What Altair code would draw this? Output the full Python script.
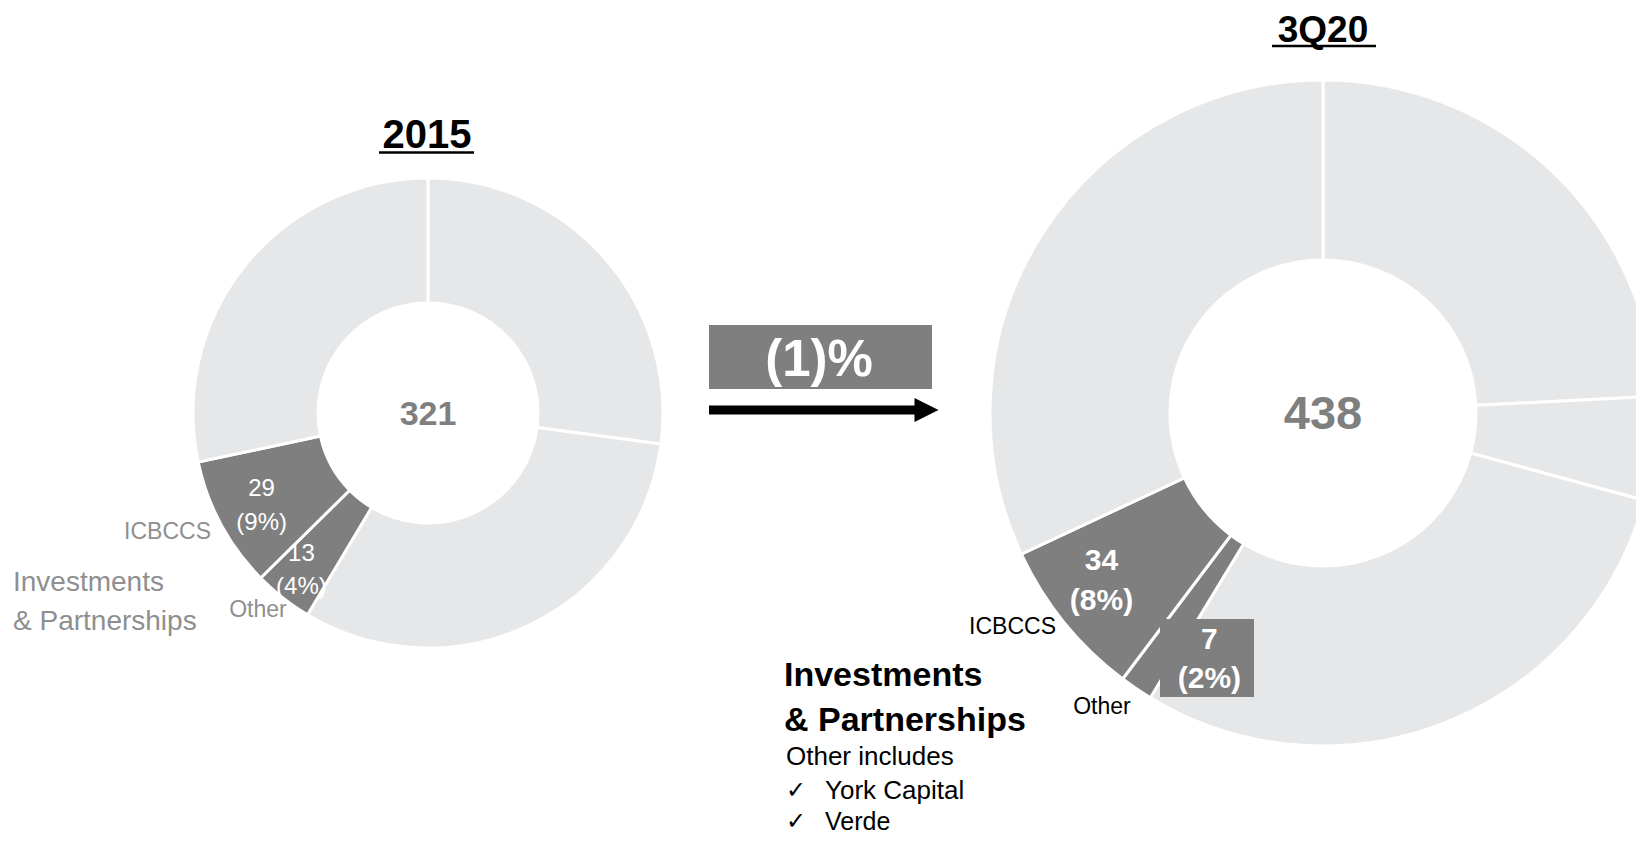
import altair as alt
import pandas as pd

# ---------------- data ----------------
segments_2015 = ["Segment 1", "Segment 2", "Other", "ICBCCS", "Segment 3"]
values_2015 = [87, 101, 13, 29, 91]

segments_3q20 = ["Segment 1", "Segment 2", "Segment 3", "Other", "ICBCCS", "Segment 4"]
values_3q20 = [106, 22, 129, 7, 34, 140]

ip_segments = ["Other", "ICBCCS"]
titles = ["2015", "3Q20"]
change_label = "(1)%"
group_title = "Investments\n& Partnerships"
other_note = "Other includes"
other_items = ["York Capital", "Verde"]

# ---------------- style ----------------
FONT = "Liberation Sans"
LIGHT = "#E6E7E8"
DARK = "#7F7F7F"
SOFT = "#8f8f8f"
OFF = 8  # page margin


def donut_df(segments, values):
    total = sum(values)
    return pd.DataFrame({
        "segment": segments,
        "value": values,
        "idx": list(range(len(values))),
        "group": ["ip" if s in ip_segments else "core" for s in segments],
        "label": [f"{v}\n({round(100 * v / total)}%)" for v in values],
    })


df15 = donut_df(segments_2015, values_2015)
df20 = donut_df(segments_3q20, values_3q20)

color_scale = alt.Scale(domain=["core", "ip"], range=[LIGHT, DARK])


def arcs(df, cx, cy, r0, r1):
    return alt.Chart(df).mark_arc(
        innerRadius=r0, outerRadius=r1, stroke="white", strokeWidth=3,
        x=cx - OFF, y=cy - OFF,
    ).encode(
        theta=alt.Theta("value:Q", stack=True),
        color=alt.Color("group:N", scale=color_scale, legend=None),
        order=alt.Order("idx:Q", sort="ascending"),
    )


def slice_label(df, seg, cx, cy, radius, size, weight, lh, dx=0, dy=0):
    return alt.Chart(df).transform_calculate(
        shown=f"datum.segment == '{seg}' ? datum.label : ''"
    ).mark_text(
        x=cx - OFF, y=cy - OFF, radius=radius, fontSize=size, fontWeight=weight,
        color="white", lineBreak="\n", lineHeight=lh, align="center",
        baseline="middle", dx=dx, dy=dy, font=FONT,
    ).encode(
        theta=alt.Theta("value:Q", stack=True),
        order=alt.Order("idx:Q", sort="ascending"),
        text="shown:N",
    )


def note(text, x, y, size, color="black", weight="normal", align="center",
         lh=None, baseline="middle"):
    mk = dict(fontSize=size, color=color, fontWeight=weight, align=align,
              baseline=baseline, font=FONT, lineBreak="\n")
    if lh:
        mk["lineHeight"] = lh
    return alt.Chart(pd.DataFrame({"t": [text]})).mark_text(**mk).encode(
        text="t:N", x=alt.value(x - OFF), y=alt.value(y - OFF))


def hrule(x1, x2, y, width, color="black"):
    return alt.Chart(pd.DataFrame({"k": [0]})).mark_rule(
        color=color, strokeWidth=width).encode(
        x=alt.value(x1 - OFF), x2=alt.value(x2 - OFF), y=alt.value(y - OFF))


def box(x1, x2, y1, y2, color=DARK):
    return alt.Chart(pd.DataFrame({"k": [0]})).mark_rect(color=color).encode(
        x=alt.value(x1 - OFF), x2=alt.value(x2 - OFF),
        y=alt.value(y1 - OFF), y2=alt.value(y2 - OFF))


# donut geometry (page coordinates)
LCX, LCY, LR0, LR1 = 428, 413, 110, 235
RCX, RCY, RR0, RR1 = 1323, 413, 153, 333

left = alt.layer(
    arcs(df15, LCX, LCY, LR0, LR1),
    slice_label(df15, "ICBCCS", LCX, LCY, 189, 24, "normal", 34, dy=-14),
    slice_label(df15, "Other", LCX, LCY, 205, 24, "normal", 33, dy=-20),
)

right = alt.layer(
    arcs(df20, RCX, RCY, RR0, RR1),
    box(1160, 1254, 619, 697),
    slice_label(df20, "ICBCCS", RCX, RCY, 280, 30, "bold", 40, dx=-4, dy=-28),
    slice_label(df20, "Other", RCX, RCY, 265, 30, "bold", 39, dx=35, dy=8),
)

arrow_head = alt.Chart(pd.DataFrame({"k": [0]})).mark_point(
    shape="M-1,-1L1,0L-1,1Z", size=576, filled=True, color="black", opacity=1,
).encode(x=alt.value(926.5 - OFF), y=alt.value(410 - OFF))

annotations = [
    # titles
    note(titles[0], 427, 148, 40, weight="bold", baseline="alphabetic"),
    hrule(379, 474, 152.5, 2.5),
    note(titles[1], 1323, 42, 37, weight="bold", baseline="alphabetic"),
    hrule(1272, 1376, 46, 2.5),
    # totals
    note(str(sum(values_2015)), LCX, 415, 34, color=DARK, weight="bold"),
    note(str(sum(values_3q20)), RCX, 415, 47, color=DARK, weight="bold"),
    # change box + arrow
    box(709, 932, 325, 389),
    note(change_label, 819, 361, 51, color="white", weight="bold"),
    hrule(709, 917, 410, 9),
    arrow_head,
    # left category labels
    note("ICBCCS", 211, 532, 23, color=SOFT, align="right"),
    note("Other", 258, 610, 23, color=SOFT),
    note(group_title, 13, 583, 28, color=SOFT, align="left", lh=39),
    # right category labels
    note("ICBCCS", 1056, 627, 23, align="right"),
    note("Other", 1102, 707, 23),
    note(group_title, 784, 676, 34, weight="bold", align="left", lh=45),
    note(other_note, 786, 757, 26, align="left"),
    note("\u2713", 786, 791, 24, align="left"),
    note(other_items[0], 825, 791, 26, align="left"),
    note("\u2713", 786, 822, 24, align="left"),
    note(other_items[1], 825, 822, 25, align="left"),
]

chart = alt.layer(left, right, *annotations).resolve_scale(
    theta="independent"
).properties(
    width=1628, height=827,
    autosize=alt.AutoSizeParams(type="none"),
    padding=0,
).configure_view(stroke=None)

chart.save("out.html", embed_options={"renderer": "svg", "actions": False})
